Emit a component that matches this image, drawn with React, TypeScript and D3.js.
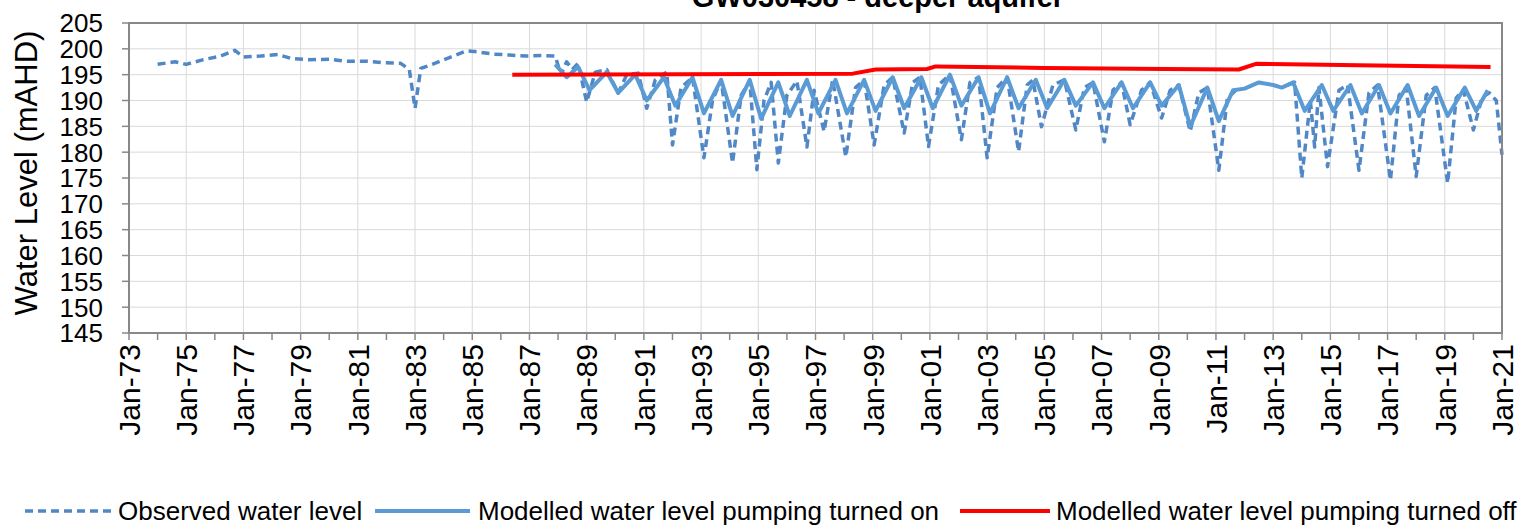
import React, { useRef, useEffect } from "react";
import * as d3 from "d3";

const W = 1526;
const H = 525;

const titleText = "GW030458 - deeper aquifer";
const yAxisTitle = "Water Level (mAHD)";
const yTicks = [145, 150, 155, 160, 165, 170, 175, 180, 185, 190, 195, 200, 205];
const xLabelYears = d3.range(1973, 2022, 2);
const xMinorYears = d3.range(1973, 2022, 1);
const legendLabels = [
  "Observed water level",
  "Modelled water level pumping turned on",
  "Modelled water level pumping turned off",
];

// [decimal year, water level]
const observed: [number, number][] = [
  [1974.0, 197.0], [1974.6, 197.5], [1975.0, 197.0], [1975.6, 197.9], [1976.2, 198.6],
  [1976.7, 199.7], [1977.0, 198.4], [1977.6, 198.6], [1978.2, 198.9], [1978.7, 198.1],
  [1979.3, 197.9], [1980.0, 198.0], [1980.6, 197.6], [1981.3, 197.6], [1981.9, 197.3],
  [1982.5, 197.2], [1982.8, 196.0], [1983.0, 188.5], [1983.2, 196.2], [1983.6, 197.0],
  [1984.2, 198.3], [1984.8, 199.6], [1985.2, 199.4], [1985.7, 199.0], [1986.3, 198.8],
  [1986.9, 198.6], [1987.5, 198.7], [1987.9, 198.6],
  [1988.1, 195.0], [1988.3, 197.5], [1988.5, 196.0], [1988.7, 197.2], [1989.0, 189.7],
  [1989.3, 195.5], [1989.7, 196.0], [1990.1, 191.4], [1990.4, 195.0], [1990.8, 195.3],
  [1991.1, 188.5], [1991.4, 194.0], [1991.8, 195.5], [1992.0, 181.4], [1992.3, 192.5],
  [1992.7, 194.5], [1993.1, 178.9], [1993.4, 190.0], [1993.7, 194.0], [1994.1, 177.9],
  [1994.4, 191.0], [1994.7, 193.8], [1994.95, 176.6], [1995.2, 190.0], [1995.45, 193.5],
  [1995.7, 177.9], [1996.0, 191.0], [1996.35, 193.8], [1996.7, 181.0], [1996.95, 192.0],
  [1997.3, 184.0], [1997.6, 194.0], [1998.06, 179.1], [1998.4, 192.5], [1998.7, 194.0],
  [1999.05, 181.4], [1999.4, 193.0], [1999.7, 194.5], [2000.1, 183.7], [2000.4, 193.5],
  [2000.65, 194.5], [2000.95, 181.1], [2001.3, 193.0], [2001.7, 195.0], [2002.1, 182.4],
  [2002.4, 193.5], [2002.7, 194.5], [2003.0, 178.9], [2003.35, 192.5], [2003.7, 194.5],
  [2004.1, 180.1], [2004.4, 193.0], [2004.6, 194.0], [2004.9, 184.9], [2005.3, 193.0],
  [2005.7, 194.0], [2006.1, 184.3], [2006.4, 192.5], [2006.7, 193.5], [2007.1, 182.0],
  [2007.4, 192.0], [2007.7, 193.5], [2008.0, 185.3], [2008.4, 192.0], [2008.7, 193.5],
  [2009.1, 186.6], [2009.4, 192.0], [2009.7, 193.0], [2010.1, 184.0], [2010.4, 191.5],
  [2010.7, 192.5], [2011.1, 176.5], [2011.4, 190.5], [2011.7, 192.0],
  [2012.0, NaN],
  [2013.5, 193.0], [2013.75, 193.5], [2014.0, 175.0], [2014.3, 190.0], [2014.45, 181.0],
  [2014.6, 192.5], [2014.9, 177.2], [2015.3, 192.0], [2015.6, 193.0], [2016.0, 176.5],
  [2016.35, 191.5], [2016.65, 193.0], [2017.1, 174.6], [2017.4, 191.0], [2017.65, 192.5],
  [2018.0, 175.3], [2018.35, 191.0], [2018.65, 192.5], [2019.1, 174.0], [2019.4, 190.5],
  [2019.65, 192.0], [2020.0, 184.3], [2020.3, 190.5], [2020.55, 191.5], [2020.8, 190.0],
  [2021.0, 179.5],
];

const modelledOn: [number, number][] = [
  [1987.9, 197.0], [1988.3, 194.5], [1988.7, 196.5], [1989.1, 192.0], [1989.7, 195.5],
  [1990.1, 191.5], [1990.7, 195.0], [1991.1, 190.0], [1991.7, 194.5], [1992.1, 189.0],
  [1992.7, 194.5], [1993.1, 187.5], [1993.7, 194.0], [1994.1, 187.0], [1994.7, 194.0],
  [1995.1, 186.5], [1995.7, 193.5], [1996.1, 187.0], [1996.7, 194.0], [1997.1, 187.5],
  [1997.7, 194.0], [1998.1, 187.5], [1998.7, 194.0], [1999.1, 188.0], [1999.7, 194.5],
  [2000.1, 188.5], [2000.7, 194.5], [2001.1, 188.5], [2001.7, 195.0], [2002.1, 189.0],
  [2002.7, 194.5], [2003.1, 187.5], [2003.7, 194.5], [2004.1, 188.5], [2004.7, 194.0],
  [2005.1, 188.5], [2005.7, 194.0], [2006.1, 189.0], [2006.7, 193.5], [2007.1, 188.5],
  [2007.7, 193.5], [2008.1, 188.5], [2008.7, 193.5], [2009.1, 189.0], [2009.7, 193.0],
  [2010.1, 185.0], [2010.7, 192.5], [2011.1, 186.0], [2011.6, 192.0], [2012.0, 192.3],
  [2012.5, 193.5], [2013.0, 193.0], [2013.3, 192.5], [2013.7, 193.5], [2014.1, 188.0],
  [2014.7, 193.0], [2015.1, 188.0], [2015.7, 193.0], [2016.1, 187.5], [2016.7, 193.0],
  [2017.1, 187.5], [2017.7, 193.0], [2018.1, 187.0], [2018.7, 192.5], [2019.1, 187.0],
  [2019.7, 192.5], [2020.1, 188.0], [2020.5, 192.0],
];

const modelledOff: [number, number][] = [
  [1986.4, 195.0], [1998.3, 195.2], [1999.1, 196.0], [2000.9, 196.1], [2001.2, 196.6],
  [2005.0, 196.3], [2009.2, 196.1], [2011.8, 196.0], [2012.4, 197.1], [2016.0, 196.8],
  [2020.6, 196.5],
];

const FONT = "'Liberation Sans', Arial, Helvetica, sans-serif";

export default function App() {
  const ref = useRef<SVGSVGElement>(null);

  useEffect(() => {
    const svg = d3.select(ref.current);
    svg.selectAll("*").remove();

    const left = 129, right = 1502, top = 23, bottom = 333;
    const x = d3.scaleLinear().domain([1973, 2021]).range([left, right]);
    const y = d3.scaleLinear().domain([145, 205]).range([bottom, top]);

    svg.append("rect").attr("width", W).attr("height", H).attr("fill", "#fff");

    // gridlines
    const grid = svg.append("g");
    grid.selectAll("line.h").data(yTicks).enter().append("line")
      .attr("x1", left).attr("x2", right)
      .attr("y1", (d) => y(d)).attr("y2", (d) => y(d))
      .attr("stroke", "#d9d9d9").attr("stroke-width", 1);
    grid.selectAll("line.v").data(xLabelYears).enter().append("line")
      .attr("x1", (d) => x(d)).attr("x2", (d) => x(d))
      .attr("y1", top).attr("y2", bottom)
      .attr("stroke", "#d9d9d9").attr("stroke-width", 1);

    // series
    const line = d3.line<[number, number]>()
      .defined((d) => !isNaN(d[1]))
      .x((d) => x(d[0])).y((d) => y(d[1]));

    svg.append("path").attr("d", line(observed) || "")
      .attr("fill", "none").attr("stroke", "#5287c6").attr("stroke-width", 3.5)
      .attr("stroke-dasharray", "8,5").attr("stroke-linejoin", "round");
    svg.append("path").attr("d", line(modelledOn) || "")
      .attr("fill", "none").attr("stroke", "#5b9bd5").attr("stroke-width", 4)
      .attr("stroke-linejoin", "round");
    svg.append("path").attr("d", line(modelledOff) || "")
      .attr("fill", "none").attr("stroke", "#ff0000").attr("stroke-width", 4)
      .attr("stroke-linejoin", "round");

    // border
    svg.append("rect").attr("x", left).attr("y", top)
      .attr("width", right - left).attr("height", bottom - top)
      .attr("fill", "none").attr("stroke", "#888").attr("stroke-width", 2);

    // y ticks
    const yg = svg.append("g");
    yg.selectAll("line").data(yTicks).enter().append("line")
      .attr("x1", left - 7).attr("x2", left)
      .attr("y1", (d) => y(d)).attr("y2", (d) => y(d))
      .attr("stroke", "#888").attr("stroke-width", 1.5);
    yg.selectAll("text").data(yTicks).enter().append("text")
      .attr("x", 103).attr("y", (d) => y(d)).attr("dy", "0.36em")
      .attr("text-anchor", "end").attr("font-family", FONT).attr("font-size", 26)
      .attr("fill", "#000").text((d) => String(d));

    // x ticks
    const xg = svg.append("g");
    xg.selectAll("line").data(xMinorYears).enter().append("line")
      .attr("x1", (d) => x(d)).attr("x2", (d) => x(d))
      .attr("y1", bottom).attr("y2", bottom + 7)
      .attr("stroke", "#888").attr("stroke-width", 1.5);
    xg.selectAll("text").data(xLabelYears).enter().append("text")
      .attr("transform", (d) => `translate(${x(d)},${bottom + 11}) rotate(-90)`)
      .attr("dy", "0.36em")
      .attr("text-anchor", "end").attr("font-family", FONT).attr("font-size", 30)
      .attr("fill", "#000")
      .text((d) => "Jan-" + String(d % 100).padStart(2, "0"));

    // axis title
    svg.append("text")
      .attr("transform", `translate(37,173) rotate(-90)`)
      .attr("text-anchor", "middle").attr("font-family", FONT).attr("font-size", 31)
      .attr("fill", "#000").text(yAxisTitle);

    // title
    svg.append("text").attr("x", 878).attr("y", 7)
      .attr("text-anchor", "middle").attr("font-family", FONT).attr("font-size", 29)
      .attr("font-weight", "bold").attr("fill", "#000").text(titleText);

    // legend
    const lg = svg.append("g");
    const ly = 511;
    const items = [
      { x1: 25, x2: 112, tx: 118, color: "#5287c6", dash: "8,5", w: 3.5 },
      { x1: 375, x2: 470, tx: 478, color: "#5b9bd5", dash: null, w: 4 },
      { x1: 960, x2: 1050, tx: 1056, color: "#ff0000", dash: null, w: 4 },
    ];
    items.forEach((it, i) => {
      const l = lg.append("line").attr("x1", it.x1).attr("x2", it.x2)
        .attr("y1", ly).attr("y2", ly).attr("stroke", it.color).attr("stroke-width", it.w);
      if (it.dash) l.attr("stroke-dasharray", it.dash);
      lg.append("text").attr("x", it.tx).attr("y", 520)
        .attr("font-family", FONT).attr("font-size", 26).attr("fill", "#000")
        .text(legendLabels[i]);
    });
  }, []);

  return (
    <svg
      ref={ref}
      width={W}
      height={H}
      style={{ position: "absolute", left: 0, top: 0, display: "block" }}
    />
  );
}
